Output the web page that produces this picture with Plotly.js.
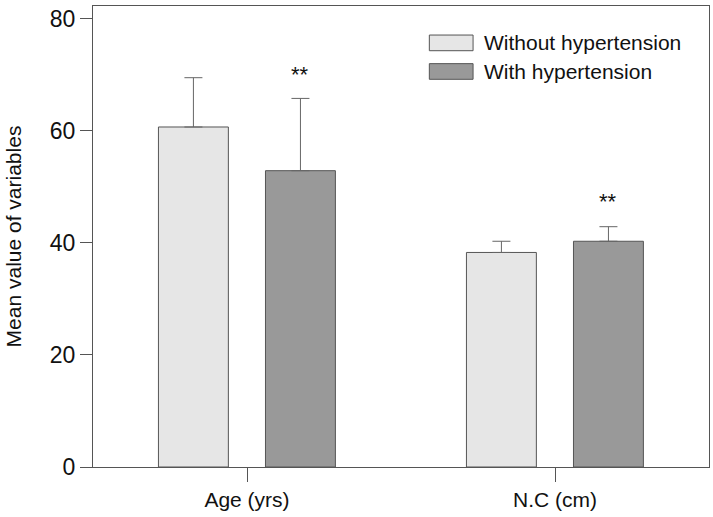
<!DOCTYPE html>
<html>
<head>
<meta charset="utf-8">
<script src="https://cdn.plot.ly/plotly-3.0.1.min.js"></script>
<style>html,body{margin:0;padding:0;background:#fff;}#chart{width:713px;height:517px;}</style>
</head>
<body>
<div id="chart"></div>
<script>
const categories = ['Age (yrs)', 'N.C (cm)'];
const seriesNames = ['Without hypertension', 'With hypertension'];
const withoutHT = [60.7, 38.3];
const withoutHTErr = [8.8, 2.0];
const withHT = [52.9, 40.3];
const withHTErr = [12.9, 2.6];
const starLabels = ['**', '**'];
const starY = [70.0, 47.4];
const yTicks = [0, 20, 40, 60, 80];

const FONT = '"Liberation Sans", Arial, sans-serif';
const EDGE = '#555555';
const BAR_W = 0.227;
const OFF_L = -0.2875;
const OFF_R = 0.06;

const errStyle = {type: 'data', symmetric: false, color: '#666666', thickness: 1, width: 9};

const traces = [
  {
    type: 'bar', name: seriesNames[0], x: categories, y: withoutHT,
    width: BAR_W, offset: OFF_L,
    marker: {color: '#e6e6e6', line: {color: EDGE, width: 1}},
    error_y: Object.assign({array: withoutHTErr, arrayminus: [0, 0]}, errStyle),
    showlegend: false, hoverinfo: 'skip'
  },
  {
    type: 'bar', name: seriesNames[1], x: categories, y: withHT,
    width: BAR_W, offset: OFF_R,
    marker: {color: '#999999', line: {color: EDGE, width: 1}},
    error_y: Object.assign({array: withHTErr, arrayminus: [0, 0]}, errStyle),
    showlegend: false, hoverinfo: 'skip'
  }
];

const annotations = [];
categories.forEach((c, i) => {
  annotations.push({
    xref: 'x', yref: 'y', x: i + OFF_R + BAR_W / 2, y: starY[i],
    text: starLabels[i], showarrow: false,
    font: {family: FONT, size: 22, color: '#111'}, yanchor: 'middle'
  });
});

// custom legend (boxes + text)
const shapes = [];
const legColors = ['#e6e6e6', '#999999'];
const legY = [0.92, 0.858];
seriesNames.forEach((n, i) => {
  shapes.push({
    type: 'rect', xref: 'paper', yref: 'paper',
    x0: 0.546, x1: 0.617, y0: legY[i] - 0.017, y1: legY[i] + 0.017,
    fillcolor: legColors[i], line: {color: EDGE, width: 1}
  });
  annotations.push({
    xref: 'paper', yref: 'paper', x: 0.632, y: legY[i],
    xanchor: 'left', yanchor: 'middle', text: n, showarrow: false,
    font: {family: FONT, size: 21, color: '#111'}
  });
});

const layout = {
  width: 713, height: 517,
  margin: {l: 93, r: 4, t: 6, b: 50},
  paper_bgcolor: '#fff', plot_bgcolor: '#fff',
  font: {family: FONT, color: '#111'},
  barmode: 'overlay',
  xaxis: {
    type: 'category', range: [-0.5, 1.5],
    showline: true, linecolor: EDGE, linewidth: 1, mirror: true,
    ticks: 'outside', ticklen: 14, tickcolor: EDGE, tickwidth: 1,
    tickfont: {family: FONT, size: 21, color: '#111'},
    showgrid: false, zeroline: false, fixedrange: true
  },
  yaxis: {
    range: [0, 82.3], tickvals: yTicks, ticktext: yTicks.map(String),
    showline: true, linecolor: EDGE, linewidth: 1, mirror: true,
    ticks: 'outside', ticklen: 12, tickcolor: EDGE, tickwidth: 1,
    tickfont: {family: FONT, size: 23, color: '#111'},
    showgrid: false, zeroline: false, fixedrange: true,
    title: {text: 'Mean value of variables', font: {family: FONT, size: 21, color: '#111'}, standoff: 22}
  },
  annotations: annotations,
  shapes: shapes
};

Plotly.newPlot('chart', traces, layout, {staticPlot: true, displayModeBar: false});
</script>
</body>
</html>
